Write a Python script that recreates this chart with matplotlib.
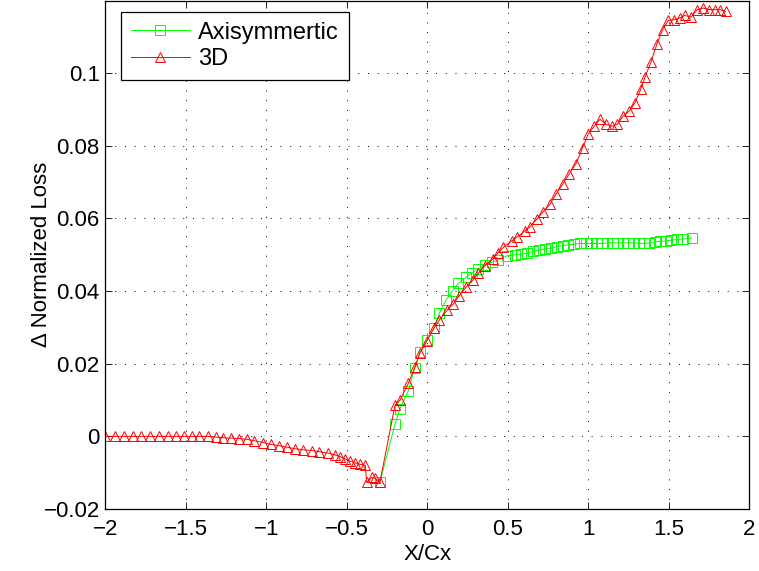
import matplotlib
matplotlib.use("Agg")
import matplotlib.pyplot as plt
import numpy as np

plt.rcParams['font.family'] = ['Liberation Sans', 'DejaVu Sans']

# Axisymmetric case (green squares)
x_axi = [-0.294, -0.201, -0.170, -0.118, -0.077, -0.046, 0.0, 0.042, 0.075, 0.116,
         0.158, 0.193, 0.240, 0.276, 0.317, 0.358, 0.400, 0.441,
         0.493, 0.545, 0.580, 0.617, 0.658, 0.696, 0.731, 0.766, 0.804, 0.841,
         0.876, 0.911, 0.948, 0.986, 1.015, 1.052, 1.083, 1.118, 1.152, 1.180,
         1.214, 1.248, 1.280, 1.317, 1.346, 1.379, 1.414, 1.445, 1.482, 1.512,
         1.549, 1.586, 1.642]
y_axi = [-0.0126, 0.0033, 0.0076, 0.0125, 0.0189, 0.0232, 0.0266, 0.0299, 0.0339, 0.0375,
         0.0401, 0.0421, 0.0438, 0.0449, 0.0461, 0.0473, 0.0479, 0.0485,
         0.0497, 0.0500, 0.0502, 0.0504, 0.0509, 0.0513, 0.0516, 0.0518, 0.0522, 0.0525,
         0.0527, 0.0529, 0.0531, 0.0531, 0.0531, 0.0531, 0.0531, 0.0533, 0.0533, 0.0533,
         0.0533, 0.0533, 0.0533, 0.0531, 0.0531, 0.0533, 0.0535, 0.0537, 0.0538, 0.0540,
         0.0542, 0.0543, 0.0546]

# 3D case (red triangles)
x_3d = [-2.0, -1.94, -1.885, -1.83, -1.775, -1.72, -1.665, -1.61, -1.56, -1.51, -1.46, -1.415, -1.365,
        -1.312, -1.267, -1.219, -1.168, -1.122, -1.075, -1.019, -0.973, -0.919, -0.870, -0.822,
        -0.770, -0.718, -0.671, -0.619, -0.574, -0.542, -0.511, -0.480, -0.449, -0.418, -0.385,
        -0.376, -0.345, -0.325, -0.294,
        -0.201, -0.170, -0.118, -0.077, -0.046, -0.004, 0.043, 0.075, 0.124, 0.161, 0.199,
        0.240, 0.282, 0.317, 0.358, 0.406, 0.441,
        0.472, 0.524, 0.559, 0.607, 0.638, 0.680, 0.720, 0.762, 0.799, 0.841,
        0.882, 0.924, 0.965, 1.000, 1.037, 1.073, 1.110, 1.145, 1.180, 1.217,
        1.255, 1.290, 1.325, 1.352, 1.389, 1.425, 1.462, 1.497, 1.532, 1.569,
        1.600, 1.638, 1.677, 1.714, 1.752, 1.787, 1.818, 1.853]
y_3d = [0, 0, 0, 0, 0, 0, 0, 0, 0, 0, 0, 0, 0,
        -0.0002, -0.0004, -0.0005, -0.0006, -0.0008, -0.0012, -0.0017, -0.0022, -0.0026,
        -0.0030, -0.0034, -0.0037, -0.0039, -0.0042, -0.0046, -0.0051, -0.0056, -0.0062,
        -0.0068, -0.0073, -0.0077, -0.0080,
        -0.0127, -0.0113, -0.0115, -0.0126,
        0.0085, 0.0099, 0.0146, 0.019, 0.0229, 0.0262, 0.0299, 0.032, 0.0348, 0.0364, 0.0387,
        0.041, 0.043, 0.0449, 0.047, 0.0488, 0.0506,
        0.052, 0.0538, 0.0549, 0.0566, 0.0577, 0.0598, 0.0619, 0.0639, 0.0667, 0.0694,
        0.0723, 0.0751, 0.0795, 0.0833, 0.0854, 0.0873, 0.0859, 0.0854, 0.0859, 0.0882,
        0.0896, 0.0918, 0.0955, 0.0989, 0.103, 0.1079, 0.112, 0.1145, 0.1147, 0.1152,
        0.1159, 0.1154, 0.1175, 0.1179, 0.1175, 0.1175, 0.1175, 0.117]

x_ticks = [-2, -1.5, -1, -0.5, 0, 0.5, 1, 1.5, 2]
x_ticklabels = ["\u22122", "\u22121.5", "\u22121", "\u22120.5", "0", "0.5", "1", "1.5", "2"]
y_ticks = [-0.02, 0, 0.02, 0.04, 0.06, 0.08, 0.1]
y_ticklabels = ["\u22120.02", "0", "0.02", "0.04", "0.06", "0.08", "0.1"]

fig = plt.figure(figsize=(7.59, 5.71), dpi=100)
ax = fig.add_axes([0.1387, 0.1086, 0.8485, 0.8905])

ax.plot(x_axi, y_axi, color=(0, 1, 0), lw=0.7, marker='s', ms=6.5,
        mfc='none', mec=(0, 1, 0), mew=0.7, label='Axisymmertic')
ax.plot(x_3d, y_3d, color=(1, 0, 0), lw=0.7, marker='^', ms=6.5,
        mfc='none', mec=(1, 0, 0), mew=0.7, label='3D')

ax.set_xlim(-2, 2)
ax.set_ylim(-0.02, 0.12)
ax.set_xticks(x_ticks)
ax.set_xticklabels(x_ticklabels)
ax.set_yticks(y_ticks)
ax.set_yticklabels(y_ticklabels)
ax.tick_params(direction='in', length=5, width=0.6, top=True, right=True,
               labelsize=16, colors='black')
ax.tick_params(axis='x', pad=7)
ax.tick_params(axis='y', pad=4)
for s in ax.spines.values():
    s.set_linewidth(0.9)

ax.grid(True, color='black', linestyle=(0, (1, 9)), linewidth=0.7)

ax.set_xlabel('X/Cx', fontsize=16)
ax.set_ylabel('\u0394 Normalized Loss', fontsize=16)
ax.xaxis.set_label_coords(0.5, -0.068)
ax.yaxis.set_label_coords(-0.083, 0.5)

leg = ax.legend(loc='upper left', bbox_to_anchor=(0.0244, 0.978), borderaxespad=0,
                fontsize=17, fancybox=False, framealpha=1, edgecolor='black',
                handlelength=2.5, handletextpad=0.34, borderpad=0.42, labelspacing=0.2)
leg.get_frame().set_linewidth(0.9)

fig.savefig('out.png', dpi=100)
